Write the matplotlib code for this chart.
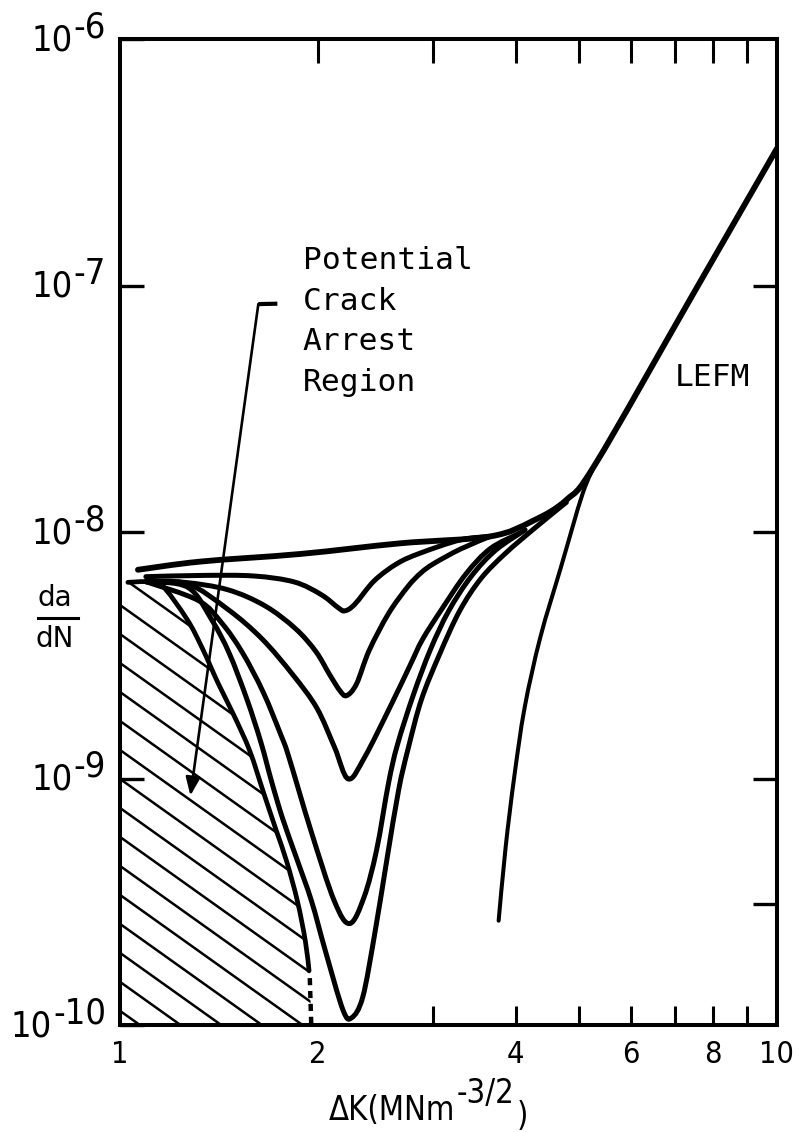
import numpy as np
import matplotlib
matplotlib.use("Agg")
import matplotlib.pyplot as plt
from matplotlib import font_manager
from matplotlib.font_manager import FontProperties
from matplotlib.patches import Polygon, PathPatch
from matplotlib.path import Path
from matplotlib.lines import Line2D
from matplotlib.ticker import NullLocator

# ---------------------------------------------------------------------------
# Data: stress-intensity range dK (MN m^-3/2) and crack growth rate da/dN
# ---------------------------------------------------------------------------
# Upper envelope, joining the LEFM line
envelope_K = [1.065, 1.327, 1.883, 2.67, 3.66, 4.25, 4.78, 5.30, 7.43, 10.0]
envelope_y = [7.03e-9, 7.59e-9, 8.15e-9, 9.0e-9, 9.6e-9, 1.11e-8, 1.35e-8,
              1.90e-8, 9.1e-8, 3.6e-7]

# Lower LEFM branch (short-crack threshold curve)
lefm_low_K = [5.30, 5.06, 4.69, 4.363, 4.130, 3.981, 3.863, 3.77]
lefm_low_y = [1.90e-8, 1.43e-8, 7.2e-9, 3.74e-9, 1.94e-9, 1.01e-9, 5.24e-10,
              2.65e-10]

# Short-crack growth curves, shallowest to deepest minimum
v1_K = [1.095, 1.344, 1.601, 1.843, 2.025, 2.149, 2.200, 2.278, 2.439, 2.644,
        2.867, 3.296, 3.66]
v1_y = [6.59e-9, 6.67e-9, 6.63e-9, 6.27e-9, 5.57e-9, 4.93e-9, 4.79e-9,
        5.10e-9, 6.35e-9, 7.46e-9, 8.22e-9, 9.29e-9, 9.6e-9]

v2_K = [1.095, 1.253, 1.460, 1.662, 1.849, 1.986, 2.085, 2.162, 2.213, 2.291,
        2.395, 2.563, 2.743, 2.872, 3.004, 3.298, 3.66]
v2_y = [6.29e-9, 6.25e-9, 5.83e-9, 5.02e-9, 4.06e-9, 3.28e-9, 2.64e-9,
        2.27e-9, 2.17e-9, 2.42e-9, 3.31e-9, 4.67e-9, 6.01e-9, 6.83e-9,
        7.45e-9, 8.53e-9, 9.6e-9]

v3_K = [1.095, 1.268, 1.462, 1.646, 1.834, 1.994, 2.121, 2.226, 2.357, 2.579,
        2.759, 2.886, 3.088, 3.363, 3.664, 4.066]
v3_y = [6.29e-9, 6.16e-9, 4.84e-9, 3.68e-9, 2.63e-9, 1.93e-9, 1.34e-9,
        9.96e-10, 1.22e-9, 1.96e-9, 2.85e-9, 3.66e-9, 4.86e-9, 6.77e-9,
        8.58e-9, 9.92e-9]

v4_K = [1.095, 1.315, 1.429, 1.536, 1.652, 1.758, 1.806, 1.954, 2.119, 2.237,
        2.353, 2.458, 2.563, 2.644, 2.797, 2.969, 3.164, 3.422, 3.729, 4.137]
v4_y = [6.29e-9, 5.28e-9, 4.27e-9, 3.24e-9, 2.24e-9, 1.50e-9, 1.23e-9,
        6.11e-10, 3.19e-10, 2.58e-10, 3.31e-10, 5.13e-10, 9.58e-10, 1.37e-9,
        2.19e-9, 3.34e-9, 4.78e-9, 6.59e-9, 8.43e-9, 1.02e-8]

v5_K = [1.095, 1.268, 1.380, 1.466, 1.560, 1.639, 1.702, 1.768, 1.857, 1.957,
        2.054, 2.185, 2.252, 2.342, 2.443, 2.548, 2.656, 2.743, 2.876, 3.065,
        3.289, 3.544, 3.864, 4.284, 4.78]
v5_y = [6.29e-9, 5.97e-9, 4.39e-9, 3.23e-9, 2.10e-9, 1.40e-9, 9.68e-10,
        6.89e-10, 4.75e-10, 3.18e-10, 2.00e-10, 1.15e-10, 1.07e-10, 1.30e-10,
        2.36e-10, 4.68e-10, 9.01e-10, 1.31e-9, 2.09e-9, 3.19e-9, 4.79e-9,
        6.48e-9, 8.21e-9, 1.04e-8, 1.32e-8]

# Potential crack arrest region (left boundary is the dK = 1 axis)
arrest_K = [1.028, 1.095, 1.155, 1.264, 1.335, 1.410, 1.490, 1.575, 1.653,
            1.728, 1.794, 1.863, 1.915, 1.940]
arrest_y = [6.25e-9, 6.29e-9, 6.13e-9, 4.44e-9, 3.37e-9, 2.44e-9, 1.81e-9,
            1.30e-9, 8.81e-10, 6.19e-10, 4.60e-10, 3.17e-10, 2.19e-10, 1.66e-10]
arrest_edge_K = [1.945, 1.955]
arrest_edge_y = [1.55e-10, 1.0e-10]

# Leader from the region label
leader_K = [1.736, 1.624, 1.28]
leader_y = [8.44e-8, 8.41e-8, 8.53e-10]

# Axis ticks and labels
xtick_vals = [1, 2, 4, 6, 8, 10]
xtick_labels = ["1", "2", "4", "6", "8", "10"]
xtick_bottom = [3, 4, 5, 6, 7, 8, 9]
xtick_top = [2, 3, 4, 5, 6, 7, 8, 9]
ytick_vals = [1e-10, 1e-9, 1e-8, 1e-7, 1e-6]
ytick_exps = ["-10", "-9", "-8", "-7", "-6"]
ytick_right = [3.1e-10, 1e-9, 1e-8, 1e-7]

region_text = ["Potential", "Crack", "Arrest", "Region"]


# ---------------------------------------------------------------------------
def condensed_font_file():
    """Return the file of an upright, regular-weight condensed sans, if any."""
    best = None
    for f in font_manager.fontManager.ttflist:
        cond = (f.stretch in ("condensed", "semi-condensed")
                or "Narrow" in f.name or "Condensed" in f.name)
        if not cond or f.style != "normal":
            continue
        try:
            w = int(f.weight)
        except (TypeError, ValueError):
            w = {"normal": 400, "regular": 400, "book": 400,
                 "medium": 500}.get(str(f.weight).lower(), 0)
        if w not in (400, 500):
            continue
        if "Mono" in f.name or "Serif" in f.name:
            continue
        score = 0 if "Sans" in f.name else 1
        if best is None or score < best[0]:
            best = (score, f.fname)
    return None if best is None else best[1]


cond_file = condensed_font_file()


def label_font(size):
    if cond_file:
        return FontProperties(fname=cond_file, size=size)
    return FontProperties(family="DejaVu Sans", size=size * 0.88)


def smooth_curve(K, y, lw):
    """Smooth poly-Bezier (in log-log space) through the given points."""
    p = np.column_stack([np.log10(K), np.log10(y)])
    n = len(p)
    ext = np.vstack([p[0], p, p[-1]])
    verts = [p[0]]
    codes = [Path.MOVETO]
    for i in range(n - 1):
        p0, p1, p2, p3 = ext[i], ext[i + 1], ext[i + 2], ext[i + 3]
        c1 = p1 + (p2 - p0) / 6.0
        c2 = p2 - (p3 - p1) / 6.0
        verts += [c1, c2, p2]
        codes += [Path.CURVE4] * 3
    verts = 10 ** np.array(verts)
    patch = PathPatch(Path(verts, codes), facecolor="none", edgecolor="black",
                      lw=lw, capstyle="round", joinstyle="round",
                      transform=ax.transData)
    ax.add_patch(patch)
    return patch


fig = plt.figure(figsize=(8.02, 11.32), dpi=100)
fig.patch.set_facecolor("white")
ax = fig.add_axes([0.1496, 0.0945, 0.8192, 0.8710])
ax.set_xscale("log")
ax.set_yscale("log")
ax.set_xlim(1, 10)
ax.set_ylim(1e-10, 1e-6)

smooth_curve(envelope_K, envelope_y, 4.2)
for K, y in [(v1_K, v1_y), (v2_K, v2_y), (v3_K, v3_y), (v4_K, v4_y), (v5_K, v5_y)]:
    smooth_curve(K, y, 3.6)
smooth_curve(lefm_low_K, lefm_low_y, 2.9)

# Hatched arrest region
poly_K = [1.0, 1.0] + arrest_K + arrest_edge_K
poly_y = [1e-10, 5.8e-9] + arrest_y + arrest_edge_y
region = Polygon(np.column_stack([poly_K, poly_y]), closed=True,
                 facecolor="none", edgecolor="none", transform=ax.transData)
ax.add_patch(region)
smooth_curve(arrest_K, arrest_y, 3.4)
ax.plot(arrest_edge_K, arrest_edge_y, lw=3.2, color="black",
        linestyle=(0, (1.6, 1.3)))

HATCH_SLOPE = 0.475
HATCH_STEP = 0.0294
for c in 0.4554 - HATCH_STEP * np.arange(0, 17):
    ln, = ax.plot([0, 1], [c, c - HATCH_SLOPE], transform=ax.transAxes,
                  color="black", lw=1.8)
    ln.set_clip_path(region)

# Region label with leader
ax.plot(leader_K[:2], leader_y[:2], lw=3.0, color="black", solid_capstyle="butt")
ax.annotate("", xy=(leader_K[2], leader_y[2]), xytext=(leader_K[1], leader_y[1]),
            arrowprops=dict(arrowstyle="-|>,head_length=0.55,head_width=0.22",
                            lw=1.9, color="black", shrinkA=0, shrinkB=0,
                            mutation_scale=20))
ax.text(0.278, 0.790, "\n".join(region_text), transform=ax.transAxes,
        ha="left", va="top", fontsize=22.5, family="DejaVu Sans Mono",
        linespacing=1.5)
ax.text(0.8445, 0.671, "LEFM", transform=ax.transAxes, ha="left", va="top",
        fontsize=22.5, family="DejaVu Sans Mono")

ax.set_xlim(1, 10)
ax.set_ylim(1e-10, 1e-6)

# Twin axes carry the top and right inward ticks
axt = ax.twiny()
axt.set_xscale("log")
axt.set_xlim(1, 10)
axt.set_xticks(xtick_top)
axt.xaxis.set_minor_locator(NullLocator())
axt.tick_params(axis="x", direction="in", length=17, width=2.2,
                top=True, labeltop=False, bottom=False, labelbottom=False)

axr = ax.twinx()
axr.set_yscale("log")
axr.set_ylim(1e-10, 1e-6)
axr.set_yticks(ytick_right)
axr.yaxis.set_minor_locator(NullLocator())
axr.tick_params(axis="y", direction="in", length=17, width=2.4,
                right=True, labelright=False, left=False, labelleft=False)
for a in (axt, axr):
    for s in a.spines.values():
        s.set_visible(False)

ax.xaxis.remove_overlapping_locs = False
ax.set_xticks(xtick_vals, labels=xtick_labels)
ax.set_xticks(xtick_bottom, minor=True)
ax.tick_params(axis="x", which="major", length=0, pad=11,
               bottom=True, top=False)
ax.tick_params(axis="x", which="minor", direction="in", length=14, width=2.2,
               bottom=True, top=False, labelbottom=False)
for lbl in ax.get_xticklabels():
    lbl.set_fontproperties(label_font(22))
ax.set_yticks(ytick_vals, labels=[""] * len(ytick_vals))
ax.yaxis.set_minor_locator(NullLocator())
ax.tick_params(axis="y", which="major", direction="in", length=17, width=2.4,
               left=True, right=False)
for s in ax.spines.values():
    s.set_linewidth(2.9)

# y tick labels: 10 with a full-size raised exponent
for val, exp in zip(ytick_vals, ytick_exps):
    e = ax.annotate(exp, xy=(0, val), xycoords=("axes fraction", "data"),
                    xytext=(-14, 12), textcoords="offset pixels", ha="right",
                    va="center", fontproperties=label_font(26),
                    annotation_clip=False)
    ax.annotate("10", xy=(0, val), xycoords=(e, "data"), xytext=(-1, -1),
                textcoords="offset pixels", ha="right", va="center",
                fontproperties=label_font(26), annotation_clip=False)

# x axis title
base = ax.annotate("\u0394K(MNm", xy=(0.51, -0.096), xycoords="axes fraction",
                   ha="right", va="baseline", fontproperties=label_font(23.5),
                   annotation_clip=False)
sup = ax.annotate("-3/2", xy=(1, 0.5), xycoords=base, xytext=(2, 0),
                  textcoords="offset pixels", ha="left", va="bottom",
                  fontproperties=label_font(23.5), annotation_clip=False)
ax.annotate(")", xy=(1, 0), xycoords=(sup, base), xytext=(2, -6),
            textcoords="offset pixels", ha="left", va="bottom",
            fontproperties=label_font(23.5), annotation_clip=False)

# y axis title as a stacked fraction
fig.text(0.0686, 0.4717, "da", ha="center", va="center", fontsize=20,
         family="DejaVu Sans")
fig.text(0.0686, 0.4355, "dN", ha="center", va="center", fontsize=20,
         family="DejaVu Sans")
fig.add_artist(Line2D([0.047, 0.097], [0.454, 0.454], transform=fig.transFigure,
                      color="black", lw=2.2))

fig.savefig("out.png", dpi=100, facecolor="white")
